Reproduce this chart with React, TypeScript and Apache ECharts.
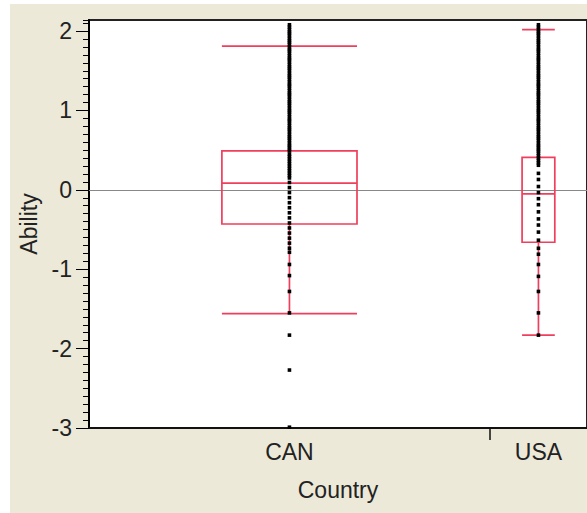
import React, { useEffect, useRef } from "react";
import * as echarts from "echarts";

// ---- data ----
const categories = ["CAN", "USA"];
// share of the x axis taken by each category (JMP: width proportional to n)
const categoryShares = [0.805, 0.195];
// box statistics: [lower whisker, Q1, median, Q3, upper whisker]
const boxStats = [
  [-1.56, -0.43, 0.084, 0.49, 1.81],
  [-1.83, -0.66, -0.05, 0.41, 2.02],
];
// dense ability levels at the top (both countries)
const upperLevels = [
  2.08, 2.05, 2.02, 1.99, 1.97, 1.94, 1.91, 1.88, 1.86, 1.83, 1.8, 1.77, 1.75,
  1.72, 1.69, 1.66, 1.64, 1.61, 1.58, 1.55, 1.53, 1.5, 1.47, 1.44, 1.42, 1.39,
  1.36, 1.33, 1.31, 1.28, 1.25, 1.22, 1.2, 1.17, 1.14, 1.11, 1.09, 1.06, 1.03,
  1.0, 0.98, 0.95, 0.92, 0.89, 0.87, 0.84, 0.81, 0.78, 0.76, 0.73, 0.7, 0.67,
  0.65, 0.62, 0.59, 0.56, 0.54, 0.51, 0.49,
];
const canLower = [
  0.45, 0.42, 0.39, 0.36, 0.33, 0.3, 0.27, 0.24, 0.21, 0.18, 0.15, 0.093,
  0.029, -0.034, -0.098, -0.162, -0.225, -0.289, -0.353, -0.417, -0.48,
  -0.544, -0.608, -0.671, -0.735, -0.786, -0.94, -1.08, -1.28, -1.55, -1.83,
  -2.27, -2.99,
];
const usaLower = [
  0.46, 0.43, 0.4, 0.37, 0.34, 0.31, 0.208, 0.131, 0.042, -0.034, -0.111,
  -0.187, -0.277, -0.366, -0.443, -0.532, -0.634, -0.736, -0.811, -0.94,
  -1.09, -1.28, -1.55, -1.83,
];
const yTickValues = [-3, -2, -1, 0, 1, 2];
const yMin = -3;
const yMax = 2.14;

const FONT = "'Liberation Sans', Arial, sans-serif";
const RED = "#EE3F5C";
const BOX_FRAC = 0.337;

export default function App() {
  const ref = useRef<HTMLDivElement>(null);

  useEffect(() => {
    document.body.style.margin = "0";
    if (!ref.current) return;
    const chart = echarts.init(ref.current, undefined, { renderer: "svg" });

    const starts: number[] = [];
    let acc = 0;
    categoryShares.forEach((s) => {
      starts.push(acc);
      acc += s;
    });
    const centers = categoryShares.map((s, i) => starts[i] + s / 2);
    const boundaries = starts.slice(1);

    const boxData = boxStats.map((b, i) => [
      centers[i],
      (categoryShares[i] * BOX_FRAC) / 2,
      ...b,
    ]);
    const pointLists = [
      [...upperLevels, ...canLower],
      [...upperLevels, ...usaLower],
    ];
    const pointData: number[][] = [];
    pointLists.forEach((list, i) => list.forEach((v) => pointData.push([centers[i], v])));

    chart.setOption({
      animation: false,
      grid: {
        left: 89,
        top: 20,
        right: -4,
        bottom: 85,
        show: true,
        backgroundColor: "#fff",
        borderColor: "#222",
        borderWidth: 2,
      },
      xAxis: {
        type: "value",
        min: 0,
        max: 1,
        splitLine: { show: false },
        axisLine: { show: true, onZero: false, lineStyle: { color: "#111", width: 2 } },
        axisTick: {
          show: true,
          customValues: boundaries,
          length: 12,
          lineStyle: { color: "#111", width: 1.5 },
        },
        axisLabel: {
          customValues: centers,
          margin: 12,
          fontSize: 23,
          fontFamily: FONT,
          color: "#222",
          formatter: (v: number) => {
            const i = centers.findIndex((c) => Math.abs(c - v) < 1e-6);
            return i >= 0 ? categories[i] : "";
          },
        },
        name: "Country",
        nameLocation: "middle",
        nameGap: 50,
        nameTextStyle: { fontSize: 23, fontFamily: FONT, color: "#222" },
      },
      yAxis: [
        {
          type: "value",
          min: yMin,
          max: yMax,
          position: "left",
          splitLine: { show: false },
          axisLine: { show: true, onZero: false, lineStyle: { color: "#000", width: 2 } },
          axisTick: {
            show: true,
            customValues: yTickValues,
            length: 13,
            lineStyle: { color: "#000", width: 1 },
          },
          axisLabel: {
            customValues: yTickValues,
            margin: 17,
            fontSize: 23,
            fontFamily: FONT,
            color: "#222",
          },
          name: "Ability",
          nameLocation: "middle",
          nameGap: 46,
          nameTextStyle: { fontSize: 23, fontFamily: FONT, color: "#222" },
        },
        {
          type: "value",
          min: yMin,
          max: yMax,
          interval: 0.1,
          position: "left",
          splitLine: { show: false },
          axisLine: { show: false, onZero: false },
          axisTick: { show: true, length: 6, lineStyle: { color: "#000", width: 1 } },
          axisLabel: { show: false },
        },
      ],
      series: [
        {
          type: "custom",
          z: 2,
          data: boxData,
          encode: { x: 0, y: [2, 3, 4, 5, 6] },
          renderItem: (_params: any, api: any) => {
            const xc = api.value(0);
            const half = api.value(1);
            const lo = api.value(2);
            const q1 = api.value(3);
            const med = api.value(4);
            const q3 = api.value(5);
            const hi = api.value(6);
            const tl = api.coord([xc - half, q3]);
            const br = api.coord([xc + half, q1]);
            const c = api.coord([xc, med]);
            const pLo = api.coord([xc, lo]);
            const pHi = api.coord([xc, hi]);
            const style = { stroke: RED, lineWidth: 1.7, fill: "none" };
            return {
              type: "group",
              children: [
                { type: "rect", shape: { x: tl[0], y: tl[1], width: br[0] - tl[0], height: br[1] - tl[1] }, style },
                { type: "line", shape: { x1: tl[0], y1: c[1], x2: br[0], y2: c[1] }, style },
                { type: "line", shape: { x1: c[0], y1: tl[1], x2: c[0], y2: pHi[1] }, style },
                { type: "line", shape: { x1: c[0], y1: br[1], x2: c[0], y2: pLo[1] }, style },
                { type: "line", shape: { x1: tl[0], y1: pHi[1], x2: br[0], y2: pHi[1] }, style },
                { type: "line", shape: { x1: tl[0], y1: pLo[1], x2: br[0], y2: pLo[1] }, style },
              ],
            };
          },
          markLine: {
            silent: true,
            z: 1,
            symbol: "none",
            label: { show: false },
            lineStyle: { color: "#888", width: 1, type: "solid" },
            data: [{ yAxis: 0 }],
          },
        },
        {
          type: "scatter",
          z: 3,
          symbol: "rect",
          symbolSize: 3.6,
          itemStyle: { color: "#000", opacity: 1 },
          data: pointData,
        },
      ],
    });

    return () => chart.dispose();
  }, []);

  return (
    <div style={{ position: "relative", width: 587, height: 513, background: "#fff" }}>
      <div style={{ position: "absolute", left: 10, top: 4, right: 0, bottom: 0, background: "#ECE9D8" }} />
      <div ref={ref} style={{ position: "absolute", left: 0, top: 0, width: 587, height: 513 }} />
    </div>
  );
}
